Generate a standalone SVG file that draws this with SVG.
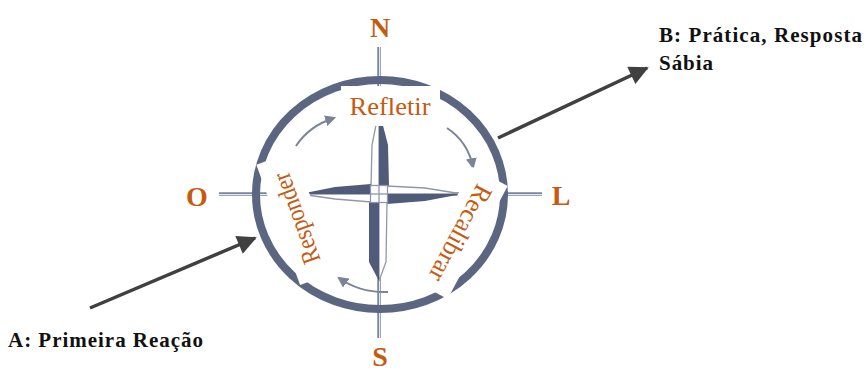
<svg xmlns="http://www.w3.org/2000/svg" width="864" height="374" viewBox="0 0 864 374">
<style>
.dir{font-family:"Liberation Serif","Times New Roman",serif;font-weight:bold;font-size:28px;fill:#c55a11;text-anchor:middle}
.step{font-family:"Liberation Serif","Times New Roman",serif;font-size:26px;fill:#c55a11;text-anchor:middle}
.lbl{font-family:"Liberation Serif","Times New Roman",serif;font-weight:bold;font-size:21px;fill:#111}
.axis{stroke:#7a859c;stroke-width:3.5;fill:none}
.axisHi{stroke:#e4e8ef;stroke-width:1;fill:none}
.dark{fill:#4f5b78}
.light{fill:#ffffff;stroke:#8f98ab;stroke-width:1.3}
.cyc{stroke:#7b8494;stroke-width:2;fill:none;marker-end:url(#sh)}
.big{stroke:#404040;stroke-width:3.5;fill:none;marker-end:url(#bh)}
.box{fill:#ffffff}
</style>
<defs>
<marker id="sh" viewBox="0 0 10 10" refX="8" refY="5" markerWidth="5.5" markerHeight="5.5" orient="auto" markerUnits="strokeWidth">
<path d="M0,0 L10,5 L0,10 Z" fill="#7b8494"/>
</marker>
<marker id="bh" viewBox="0 0 10 10" refX="9" refY="5" markerWidth="7.5" markerHeight="5.5" orient="auto" markerUnits="strokeWidth">
<path d="M0,0 L10,5 L0,10 Z" fill="#404040"/>
</marker>
</defs>
<rect width="864" height="374" fill="#ffffff"/>

<g id="compass">
<line class="axis" x1="219" y1="194" x2="542" y2="194"/>
<line class="axisHi" x1="219" y1="194.5" x2="542" y2="194.5"/>
<line class="axis" x1="379" y1="47" x2="379" y2="338"/>
<line class="axisHi" x1="379.5" y1="47" x2="379.5" y2="338"/>
<ellipse cx="380" cy="194.5" rx="124" ry="114.5" fill="none" stroke="#5b6780" stroke-width="8"/>
<!-- arms -->
<polygon class="light" points="379,110 372,145 371,186 379,186"/>
<polygon class="dark" points="379,110 388,145 389,186 379,186"/>
<polygon class="light" points="462,194 425,188 387,186 387,194"/>
<polygon class="dark" points="462,194 425,201 387,204 387,194"/>
<polygon class="light" points="379,281 386,262 387,202 379,202"/>
<polygon class="dark" points="379,281 369,262 369,202 379,202"/>
<polygon class="light" points="300,194 335,199 371,202 371,194"/>
<polygon class="dark" points="300,194 335,187 371,184 371,194"/>
<rect x="370.5" y="185.5" width="17" height="17" fill="#ffffff" stroke="#8f98ab" stroke-width="1.3"/>
<line x1="379" y1="185.5" x2="379" y2="202.5" stroke="#8f98ab" stroke-width="1.3"/>
<line x1="370.5" y1="194" x2="387.5" y2="194" stroke="#8f98ab" stroke-width="1.3"/>
</g>

<g id="connectors">
<path class="cyc" d="M296,146 Q309,126 334,118"/>
<path class="cyc" d="M447,128 Q468,142 473,167"/>
<path class="cyc" d="M388,292 Q360,293 339,278"/>
<line class="big" x1="90" y1="308" x2="255" y2="238"/>
<line class="big" x1="498" y1="138" x2="647" y2="68"/>
</g>

<g id="refletir">
<rect class="box" x="341" y="86" width="99" height="40"/>
<text class="step" x="390" y="115" textLength="81" lengthAdjust="spacingAndGlyphs">Refletir</text>
</g>
<g id="responder" transform="translate(297,218) rotate(-110)">
<rect class="box" x="-64" y="-20" width="128" height="40"/>
<text class="step" x="0" y="8" textLength="95" lengthAdjust="spacingAndGlyphs">Responder</text>
</g>
<g id="recalibrar" transform="translate(460,233) rotate(118)">
<rect class="box" x="-64" y="-20" width="128" height="40"/>
<text class="step" x="0" y="8" textLength="106" lengthAdjust="spacingAndGlyphs">Recalibrar</text>
</g>

<g id="north"><text class="dir" x="380" y="37">N</text></g>
<g id="south"><text class="dir" x="380" y="366">S</text></g>
<g id="west"><text class="dir" x="197" y="206">O</text></g>
<g id="east"><text class="dir" x="561" y="205">L</text></g>

<g id="labelA"><text class="lbl" x="8" y="347" textLength="195" lengthAdjust="spacing">A: Primeira Reação</text></g>
<g id="labelB">
<text class="lbl" x="659" y="42" textLength="203" lengthAdjust="spacing">B: Prática, Resposta</text>
<text class="lbl" x="659" y="70" textLength="54" lengthAdjust="spacing">Sábia</text>
</g>
</svg>
